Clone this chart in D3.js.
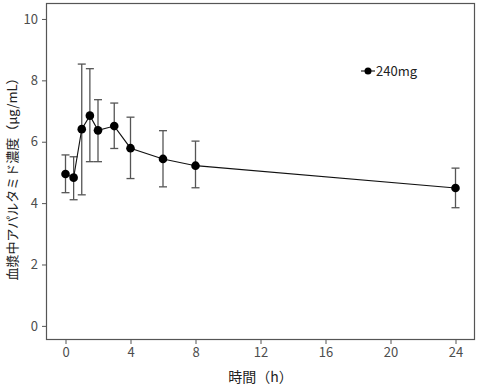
<!DOCTYPE html>
<html>
<head>
<meta charset="utf-8">
<script src="https://cdn.jsdelivr.net/npm/d3@7"></script>
<style>
  body { margin: 0; background: #fff; }
  svg text { font-family: "Noto Sans CJK JP", "Noto Sans", sans-serif; }
</style>
</head>
<body>
<svg class="chart"></svg>
<script>
// time (h), mean concentration, upper and lower error bounds
const times = [0, 0.5, 1, 1.5, 2, 3, 4, 6, 8, 24];
const means = [4.95, 4.83, 6.41, 6.85, 6.37, 6.51, 5.79, 5.44, 5.22, 4.49];
const upper = [5.57, 5.51, 8.53, 8.38, 7.37, 7.26, 6.80, 6.36, 6.02, 5.14];
const lower = [4.34, 4.11, 4.27, 5.35, 5.35, 5.78, 4.80, 4.53, 4.50, 3.85];
const xTicks = [0, 4, 8, 12, 16, 20, 24];
const yTicks = [0, 2, 4, 6, 8, 10];
const seriesName = "240mg";

const canvas = {width: 478, height: 389};
const panel = {left: 46, top: 3, right: 475, bottom: 340};
const grey = "#555";

const data = times.map((t, i) => ({t: t, m: means[i], hi: upper[i], lo: lower[i]}));

const x = d3.scaleLinear().domain([-1.2, 25.2]).range([panel.left, panel.right]);
const y = d3.scaleLinear().domain([-0.46, 10.52]).range([panel.bottom, panel.top]);

const svg = d3.select(".chart")
    .attr("width", canvas.width)
    .attr("height", canvas.height);

// panel border
svg.append("rect")
    .attr("x", panel.left + 0.5).attr("y", panel.top + 0.5)
    .attr("width", panel.right - panel.left - 1)
    .attr("height", panel.bottom - panel.top - 1)
    .attr("fill", "none").attr("stroke", grey).attr("stroke-width", 1.2);

const xAxis = svg.append("g")
    .attr("transform", "translate(0," + panel.bottom + ")")
    .call(d3.axisBottom(x).tickValues(xTicks).tickSize(4).tickPadding(4));
const yAxis = svg.append("g")
    .attr("transform", "translate(" + panel.left + ",0)")
    .call(d3.axisLeft(y).tickValues(yTicks).tickSize(4).tickPadding(4));

[xAxis, yAxis].forEach(function (g) {
    g.select(".domain").remove();
    g.selectAll(".tick line").attr("stroke", grey);
    g.selectAll(".tick text")
        .attr("fill", "#4d4d4d")
        .style("font-size", "13px");
});

// error bars
const bars = svg.append("g").attr("stroke", grey).attr("stroke-width", 1.3);
bars.selectAll(".err")
    .data(data).enter()
    .append("line")
    .attr("x1", d => x(d.t)).attr("x2", d => x(d.t))
    .attr("y1", d => y(d.hi)).attr("y2", d => y(d.lo));
bars.selectAll(".cap-hi")
    .data(data).enter()
    .append("line")
    .attr("x1", d => x(d.t) - 4).attr("x2", d => x(d.t) + 4)
    .attr("y1", d => y(d.hi)).attr("y2", d => y(d.hi));
bars.selectAll(".cap-lo")
    .data(data).enter()
    .append("line")
    .attr("x1", d => x(d.t) - 4).attr("x2", d => x(d.t) + 4)
    .attr("y1", d => y(d.lo)).attr("y2", d => y(d.lo));

// mean line
svg.append("path")
    .datum(data)
    .attr("fill", "none")
    .attr("stroke", "#111")
    .attr("stroke-width", 1.1)
    .attr("d", d3.line().x(d => x(d.t)).y(d => y(d.m)));

svg.selectAll(".pt")
    .data(data).enter()
    .append("circle")
    .attr("cx", d => x(d.t)).attr("cy", d => y(d.m))
    .attr("r", 4.3)
    .attr("fill", "#000");

// legend
const leg = svg.append("g").attr("transform", "translate(368,71)");
leg.append("line").attr("x1", -7).attr("x2", 7).attr("stroke", "#111").attr("stroke-width", 1.1);
leg.append("circle").attr("r", 3.5).attr("fill", "#000");
leg.append("text")
    .attr("x", 8).attr("y", 0).attr("dy", "0.35em")
    .style("font-size", "13px").attr("fill", "#222")
    .text(seriesName);

// axis titles
svg.append("text")
    .attr("x", (panel.left + panel.right) / 2).attr("y", 382)
    .attr("text-anchor", "middle")
    .style("font-size", "14px").attr("fill", "#222")
    .text("時間（h）");
svg.append("text")
    .attr("transform", "translate(12,176) rotate(-90)")
    .attr("text-anchor", "middle")
    .attr("dy", "0.35em")
    .style("font-size", "13px").attr("fill", "#222")
    .text("血漿中アパルタミド濃度（μg/mL）");
</script>
</body>
</html>
